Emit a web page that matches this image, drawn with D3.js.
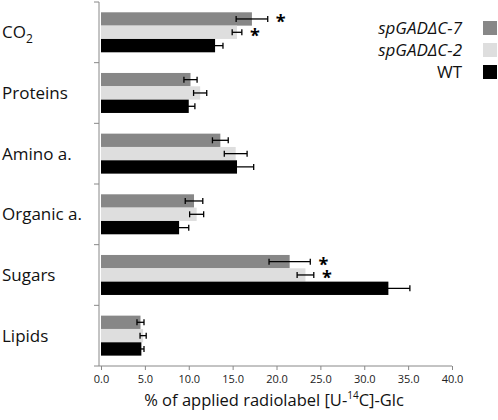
<!DOCTYPE html>
<html><head><meta charset="utf-8">
<script src="https://cdn.jsdelivr.net/npm/d3@7"></script>
<style>body{margin:0;background:#fff}svg{display:block}text{font-family:"Open Sans",sans-serif}</style>
</head><body>
<script>
const categories = ["CO2","Proteins","Amino a.","Organic a.","Sugars","Lipids"];
const series = ["spGADΔC-7","spGADΔC-2","WT"];
const valuesC7 = [17.2,10.2,13.6,10.6,21.5,4.5];
const errC7    = [1.8,0.75,0.9,1.0,2.35,0.4];
const valuesC2 = [15.5,11.3,15.35,10.9,23.3,4.8];
const errC2    = [0.55,0.75,1.3,0.8,0.95,0.35];
const valuesWT = [13.0,10.0,15.5,8.9,32.75,4.6];
const errWT    = [0.9,0.7,1.9,1.1,2.45,0.3];
const sigC7 = [true,false,false,false,true,false];
const sigC2 = [true,false,false,false,true,false];
const sigWT = [false,false,false,false,false,false];
const xTicks = [0,5,10,15,20,25,30,35,40];
const colors = ["#878787","#dedede","#000000"];

const W=498,H=420;
const svg=d3.select("body").append("svg").attr("width",W).attr("height",H);
const x=d3.scaleLinear().domain([0,40]).range([101,452]);
const y=d3.scaleBand().domain(categories).range([2,366]);
const y1=d3.scaleBand().domain(series).range([10.3,50.3]);

const vals=[valuesC7,valuesC2,valuesWT], errs=[errC7,errC2,errWT], sigs=[sigC7,sigC2,sigWT];
const data=[];
categories.forEach((c,i)=>series.forEach((s,j)=>data.push({c,s,j,v:vals[j][i],e:errs[j][i],sig:sigs[j][i]})));

// bars
svg.append("g").selectAll("rect").data(data).join("rect")
  .attr("x",x(0)).attr("y",d=>y(d.c)+y1(d.s))
  .attr("width",d=>x(d.v)-x(0)).attr("height",y1.bandwidth())
  .attr("fill",d=>colors[d.j]);

// error bars
const eg=svg.append("g").attr("stroke","#000").attr("stroke-width",1.3);
data.forEach(d=>{
  const cy=y(d.c)+y1(d.s)+y1.bandwidth()/2;
  eg.append("line").attr("x1",x(d.v-d.e)).attr("x2",x(d.v+d.e)).attr("y1",cy).attr("y2",cy);
  [d.v-d.e,d.v+d.e].forEach(v=>eg.append("line").attr("x1",x(v)).attr("x2",x(v)).attr("y1",cy-3).attr("y2",cy+3));
});
// asterisks
svg.append("g").selectAll("text").data(data.filter(d=>d.sig)).join("text")
  .attr("x",d=>x(d.v+d.e)+13).attr("y",d=>y(d.c)+y1(d.s)+y1.bandwidth()/2+9.5)
  .attr("text-anchor","middle")
  .attr("font-size",18).attr("font-weight","bold").attr("font-family","DejaVu Sans").text("*");

// x axis
const xa=svg.append("g").attr("transform","translate(0,366)")
  .call(d3.axisBottom(x).tickValues(xTicks).tickFormat(d3.format(".1f")).tickSize(4).tickSizeOuter(0));
xa.select(".domain").attr("stroke","#888").attr("d","M99,0H452");
xa.selectAll(".tick line").attr("stroke","#888");
xa.selectAll(".tick text").attr("font-size",11).attr("fill","#222").attr("dy","0.95em").attr("font-family","Open Sans");

// y axis
const ya=svg.append("g").attr("transform","translate(99,0)")
  .call(d3.axisLeft(y).tickValues([]).tickSizeOuter(0));
ya.select(".domain").attr("stroke","#888").attr("d","M0,2V366");
const bounds=[...categories.map(c=>y(c)),366];
ya.selectAll("line.b").data(bounds).join("line").attr("class","b")
  .attr("x1",-5).attr("x2",0).attr("y1",d=>d).attr("y2",d=>d).attr("stroke","#888");

// category labels
const lab=svg.append("g").selectAll("text").data(categories).join("text")
  .attr("x",2).attr("y",d=>y(d)+y.bandwidth()/2+6).attr("font-size",17).attr("fill","#111");
lab.each(function(d){
  const t=d3.select(this);
  if(d==="CO2"){t.append("tspan").text("CO");t.append("tspan").attr("font-size",12).attr("dy",5).text("2");}
  else t.text(d);
});

// legend
const lg=svg.append("g");
series.forEach((s,j)=>{
  const yy=21+j*22;
  lg.append("rect").attr("x",483).attr("y",yy).attr("width",14).attr("height",14).attr("fill",colors[j]);
  lg.append("text").attr("x",462).attr("y",yy+12.5).attr("text-anchor","end").attr("font-size",17)
    .attr("font-style",j<2?"italic":"normal").attr("fill","#111").text(s);
});

// axis title
const tt=svg.append("text").attr("x",274).attr("y",406).attr("text-anchor","middle").attr("font-size",16.5).attr("fill","#111");
tt.append("tspan").text("% of applied radiolabel [U-");
tt.append("tspan").attr("font-size",10).attr("dy",-7).text("14");
tt.append("tspan").attr("dy",7).text("C]-Glc");
</script>
</body></html>
